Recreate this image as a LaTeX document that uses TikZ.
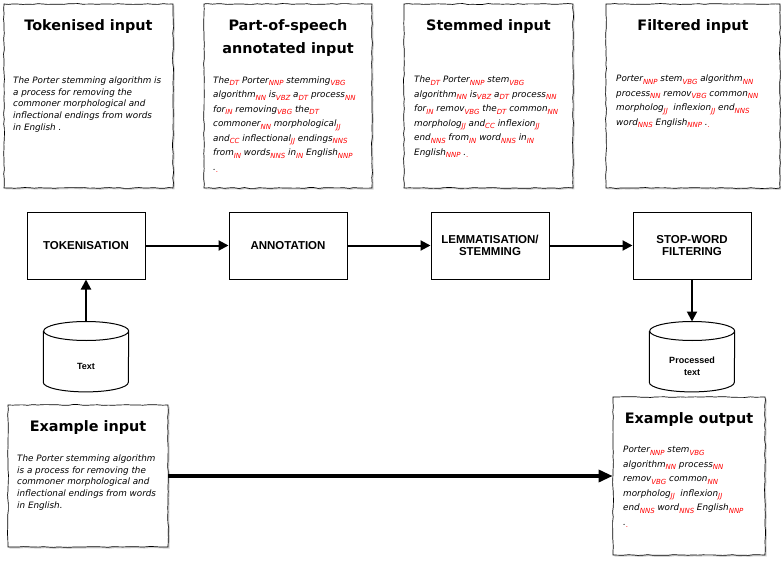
\documentclass[tikz,border=0pt]{standalone}
\usepackage{fontspec}
\setmainfont{DejaVu Sans}
\newfontfamily\stagefont{Liberation Sans}
\usetikzlibrary{positioning,arrows.meta,shadows,decorations.pathmorphing}
\newcommand{\postag}[2]{#1\raisebox{-2.6pt}{\fontsize{7}{7}\selectfont\textcolor{red}{#2}}}
\tikzstyle{paper} = [draw, line width=0.7pt, fill=white, decorate, decoration={random steps,segment length=5pt,amplitude=0.45pt}, drop shadow={shadow xshift=1.5pt,shadow yshift=-1.5pt,fill=black!35}]
\tikzstyle{papertitle} = [font=\bfseries\fontsize{14.4}{23}\selectfont, align=center]
\tikzstyle{papertext} = [font=\itshape\fontsize{8.8}{11.7}\selectfont, align=left, anchor=north west, inner sep=0pt]
\tikzstyle{taggedtext} = [papertext, font=\itshape\fontsize{8.8}{14.5}\selectfont]
\tikzstyle{stage} = [draw, line width=1pt, minimum width=118pt, minimum height=67pt, align=center, font=\stagefont\bfseries\fontsize{11.5}{12.5}\selectfont]
% body of a cylinder, the lid is drawn above it
\tikzstyle{store} = [inner sep=0pt, minimum width=85pt, minimum height=51pt, align=center, font=\stagefont\bfseries\fontsize{9}{12.5}\selectfont]
\tikzstyle{flow} = [line width=2pt, -{Triangle[length=10pt,width=10pt]}]

\begin{document}
\begin{tikzpicture}[x=1pt,y=-1pt]
\useasboundingbox (0,0) rectangle (781,564);
\pgfmathsetseed{7}
% text after each step
\node[paper, minimum width=169pt, minimum height=184pt] (tokin) at (88.5,96) {};
\node[papertitle] (tokintitle) at (88.5,27) {Tokenised input};
\node[papertext] (tokinbody) at (13,76.5) {The Porter stemming algorithm is\\
a process for removing the\\
commoner morphological and\\
inflectional endings from words\\
in English .};
\node[paper, minimum width=168pt, minimum height=184pt] (posin) at (288,96) {};
\node[papertitle] (posintitle) at (288,38.5) {Part-of-speech\\annotated input};
\node[taggedtext] (posinbody) at (213,76.5) {\postag{The}{DT} \postag{Porter}{NNP} \postag{stemming}{VBG}\\
\postag{algorithm}{NN} \postag{is}{VBZ} \postag{a}{DT} \postag{process}{NN}\\
\postag{for}{IN} \postag{removing}{VBG} \postag{the}{DT}\\
\postag{commoner}{NN} \postag{morphological}{JJ}\\
\postag{and}{CC} \postag{inflectional}{JJ} \postag{endings}{NNS}\\
\postag{from}{IN} \postag{words}{NNS} \postag{in}{IN} \postag{English}{NNP}\\
\postag{.}{.}};
\node[paper, minimum width=169pt, minimum height=184pt] (stemin) at (488.5,96) {};
\node[papertitle] (stemintitle) at (488.5,27) {Stemmed input};
\node[taggedtext] (steminbody) at (414,76) {\postag{The}{DT} \postag{Porter}{NNP} \postag{stem}{VBG}\\
\postag{algorithm}{NN} \postag{is}{VBZ} \postag{a}{DT} \postag{process}{NN}\\
\postag{for}{IN} \postag{remov}{VBG} \postag{the}{DT} \postag{common}{NN}\\
\postag{morpholog}{JJ} \postag{and}{CC} \postag{inflexion}{JJ}\\
\postag{end}{NNS} \postag{from}{IN} \postag{word}{NNS} \postag{in}{IN}\\
\postag{English}{NNP} \postag{.}{.}};
\node[paper, minimum width=174pt, minimum height=184pt] (filtin) at (693,96) {};
\node[papertitle] (filtintitle) at (693,27) {Filtered input};
\node[taggedtext] (filtinbody) at (616,75) {\postag{Porter}{NNP} \postag{stem}{VBG} \postag{algorithm}{NN}\\
\postag{process}{NN} \postag{remov}{VBG} \postag{common}{NN}\\
\postag{morpholog}{JJ} \ \postag{inflexion}{JJ} \postag{end}{NNS}\\
\postag{word}{NNS} \postag{English}{NNP} \postag{.}{.}};
% processing steps
\node[stage] (tok) at (86,245.5) {TOKENISATION};
\node[stage, right=83pt of tok] (ann) {ANNOTATION};
\node[stage, right=83pt of ann] (lem) {LEMMATISATION/\\STEMMING};
\node[stage, right=83pt of lem] (stop) {STOP-WORD\\FILTERING};
\node[store, below=61pt of tok] (txt) {Text};
\node[store, below=61pt of stop] (proc) {Processed\\text};
\foreach \s in {txt,proc}
  \draw[line width=1pt] ([yshift=9.5pt]\s.north west) -- ([yshift=9.5pt]\s.south west)
    arc[start angle=180,end angle=360,x radius=42.5pt,y radius=9.5pt]
    -- ([yshift=9.5pt]\s.north east)
    arc[start angle=0,end angle=360,x radius=42.5pt,y radius=9.5pt];
\draw[flow] ([yshift=19pt]txt.north) -- (tok);
\draw[flow] (tok) -- (ann);
\draw[flow] (ann) -- (lem);
\draw[flow] (lem) -- (stop);
\draw[flow] (stop) -- ([yshift=19pt]proc.north);
% example
\node[paper, minimum width=160pt, minimum height=142pt] (exin) at (88,476) {};
\node[papertitle] (exintitle) at (88,428) {Example input};
\node[papertext] (exinbody) at (17,454.5) {The Porter stemming algorithm\\
is a process for removing the\\
commoner morphological and\\
inflectional endings from words\\
in English.};
\node[paper, minimum width=152pt, minimum height=158pt] (exout) at (689,476) {};
\node[papertitle] (exouttitle) at (689,420) {Example output};
\node[taggedtext] (exoutbody) at (623,446) {\postag{Porter}{NNP} \postag{stem}{VBG}\\
\postag{algorithm}{NN} \postag{process}{NN}\\
\postag{remov}{VBG} \postag{common}{NN}\\
\postag{morpholog}{JJ} \ \postag{inflexion}{JJ}\\
\postag{end}{NNS} \postag{word}{NNS} \postag{English}{NNP}\\
\postag{.}{.}};
\draw[line width=3.2pt, -{Triangle[length=14pt,width=12pt]}] (exin) -- (exout);
\end{tikzpicture}
\end{document}
